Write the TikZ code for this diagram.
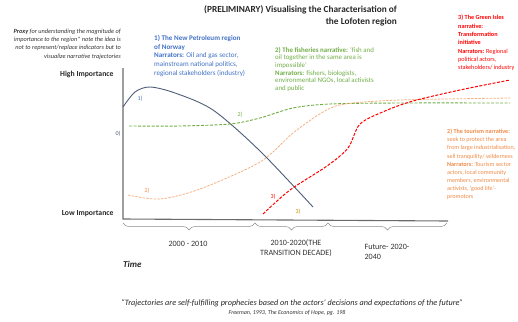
\documentclass[tikz,border=0pt]{standalone}
\usepackage{fontspec}
\setmainfont{Carlito}
\usetikzlibrary{decorations.pathreplacing}
\definecolor{petrol}{HTML}{4E5D78}
\definecolor{petroltext}{HTML}{4472C4}
\definecolor{fishgreen}{HTML}{70AD47}
\definecolor{tourline}{HTML}{F4B183}
\definecolor{tourtext}{HTML}{EE8A45}
\definecolor{islered}{HTML}{FF0000}
\definecolor{axisgray}{HTML}{6B6B6B}
\definecolor{goldlabel}{HTML}{BF9000}
\begin{document}
\begin{tikzpicture}[x=1pt,y=-1pt,
  txt/.style={align=left,anchor=north west,inner sep=0pt},
  lbl/.style={font=\fontsize{6}{7}\selectfont,inner sep=0pt},
  period/.style={font=\fontsize{8.1}{10.5}\selectfont,align=center,text=black!80},
  brace/.style={draw=black!45,line width=0.5pt,decorate,decoration={brace,amplitude=7pt,mirror}}]
\useasboundingbox (0,0) rectangle (518,321);
\node[anchor=north east,align=right,inner sep=0pt,font=\fontsize{9.3}{12}\selectfont\bfseries,text=black!85] (title) at (397,5) {(PRELIMINARY) Visualising the Characterisation of\\the Lofoten region};
\node[anchor=north east,align=right,inner sep=0pt,font=\fontsize{6.3}{8.2}\selectfont\itshape,text=black!80] (proxy) at (121,29) {\textbf{Proxy} for understanding the magnitude of\\importance to the region* note the idea is\\not to represent/replace indicators but to\\visualize narrative trajectories};
\node[anchor=east,font=\fontsize{7.7}{8}\selectfont\bfseries,text=black!85] (high) at (117,74) {High Importance};
\node[anchor=east,font=\fontsize{7.7}{8}\selectfont\bfseries,text=black!85] (low) at (117,214) {Low Importance};
% axes
\draw[axisgray,line width=1.1pt] (123,68) -- (123,219) -- (448,221);
\node[lbl,text=petrol] (zero) at (118,134) {0)};
% periods
\draw[brace] (123,223) -- (255,223);
\draw[brace] (255,223) -- (328,223);
\draw[brace] (328,223) -- (447,223);
\node[period] (p1) at (188,244) {2000 - 2010};
\node[period] (p2) at (296,248) {2010-2020(THE\\TRANSITION DECADE)};
\node[period,align=left,anchor=west] (p3) at (361,252) {Future- 2020-\\2040};
\node[anchor=west,inner sep=0pt,font=\fontsize{9}{10}\selectfont\bfseries\itshape,text=black!85] (time) at (123,264) {Time};
% trajectories
\draw[petrol,line width=0.9pt] plot[smooth] coordinates {(123,107) (135,92) (150,87) (175,93) (213,110) (260,151) (313,207)};
\draw[fishgreen,line width=0.9pt,dash pattern=on 3pt off 1.5pt] plot[smooth] coordinates {(129,126) (180,126) (230,124) (260,118) (293,108) (330,104) (400,103) (510,103)};
\draw[tourline,line width=0.8pt,dash pattern=on 2.5pt off 1.2pt] plot[smooth] coordinates {(128,195) (160,199) (200,189) (260,162) (293,133) (323,112) (345,104) (400,100) (510,98)};
\draw[islered,line width=1pt,dash pattern=on 3pt off 1.5pt] plot[smooth] coordinates {(263,214) (290,190) (327,166) (348,148) (360,124) (385,111) (413,101) (460,90) (510,80)};
\node[lbl,text=petroltext] (l1) at (140,99) {1)};
\node[lbl,text=fishgreen] (l2a) at (240,115) {2)};
\node[lbl,text=tourtext] (l2b) at (147,191) {2)};
\node[lbl,text=islered] (l3a) at (273,197) {3)};
\node[lbl,text=goldlabel] (l3b) at (298,212) {3)};
% narratives
\node[txt,text=petroltext,font=\fontsize{7.1}{8.7}\selectfont] (petroleum) at (154,35) {\textbf{1) The New Petroleum region}\\\textbf{of Norway}\\\textbf{Narrators:} Oil and gas sector,\\mainstream national politics,\\regional stakeholders (industry)};
\node[txt,text=fishgreen,font=\fontsize{6.9}{7.6}\selectfont] (fisheries) at (275,47) {\textbf{2) The fisheries  narrative:} `fish and\\oil together in the same area is\\impossible'\\\textbf{Narrators:} fishers, biologists,\\environmental  NGOs, local activists\\and public};
\node[txt,text=islered,font=\fontsize{6.2}{8.3}\selectfont] (isles) at (458,15) {\textbf{3) The Green  Isles}\\\textbf{narrative:}\\\textbf{Transformation}\\\textbf{initiative}\\\textbf{Narrators:} Regional\\political actors,\\stakeholders/ industry};
\node[txt,text=tourtext,font=\fontsize{6.1}{8.1}\selectfont] (tourism) at (447,129) {\textbf{2) The tourism narrative:}\\seek to protect the area\\from large industrialisation,\\sell tranquility/  wilderness\\\textbf{Narrators:} Tourism sector\\actors, local community\\members,  environmental\\activists, `good life'-\\promotors};
% quote
\node[inner sep=0pt,font=\fontsize{8.2}{9}\selectfont\itshape,text=black!85] (quote) at (292,303) {``Trajectories are self-fulfilling  prophecies based on the actors' decisions and expectations of the future''};
\node[inner sep=0pt,font=\fontsize{6}{7}\selectfont\itshape,text=black!80] (source) at (287,313) {Freeman, 1993, The Economics  of Hope, pg. 198};
\end{tikzpicture}
\end{document}
